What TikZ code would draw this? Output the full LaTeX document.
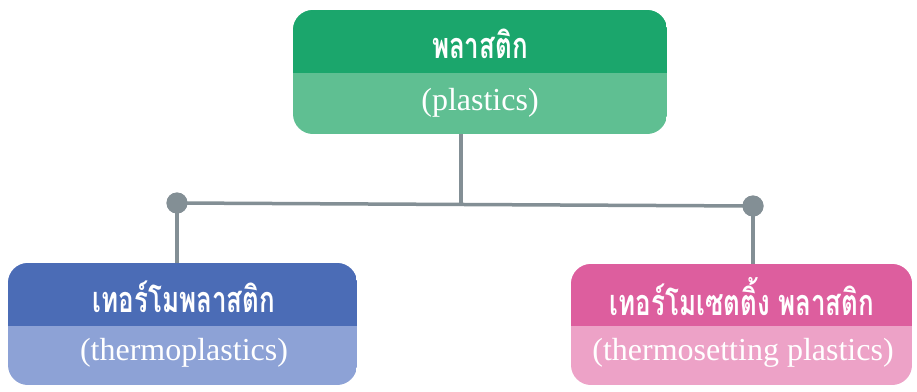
\documentclass[tikz,border=0pt]{standalone}
\usepackage{fontspec}
\setmainfont{Liberation Serif}
\newfontfamily\thaifont[Script=Thai, FakeStretch=0.72]{Loma}
\definecolor{gdark}{HTML}{1BA66C}
\definecolor{glight}{HTML}{5FBF92}
\definecolor{bdark}{HTML}{4B6CB6}
\definecolor{blight}{HTML}{8DA2D6}
\definecolor{pdark}{HTML}{DD5E9E}
\definecolor{plight}{HTML}{EDA2C7}
\definecolor{linegray}{HTML}{838F95}
\tikzset{
  boxarea/.style={rectangle, inner sep=0pt, outer sep=0pt},
  thtext/.style={text=white, font=\thaifont\bfseries\fontsize{36}{40}\selectfont, inner sep=0pt},
  entext/.style={text=white, font=\fontsize{32}{36}\selectfont, inner sep=0pt},
  link/.style={draw=linegray, line width=3.5pt},
  dot/.style={circle, fill=linegray, minimum size=21pt, inner sep=0pt},
}
\newcommand{\splitbox}[8]{%
  \begin{scope}
    \clip[rounded corners=20pt] (#2,#3) rectangle (#4,#5);
    \fill[#8] (#2,#3) rectangle (#4,#5);
    \fill[#7] (#2,#3) rectangle (#4,#6);
  \end{scope}
  \node[boxarea, minimum width={(#4-#2)*1pt}, minimum height={(#5-#3)*1pt}] (#1) at ({(#2+#4)/2},{(#3+#5)/2}) {};
}
\begin{document}
\begin{tikzpicture}[x=1pt,y=-1pt]
\useasboundingbox (0,0) rectangle (917,391);
\fill[white] (0,0) rectangle (917,391);
\coordinate (mid) at (461,205);
\node[dot] (dl) at (177,203) {};
\node[dot] (dr) at (753,206) {};
\splitbox{top}{293}{10}{667}{134}{73}{gdark}{glight}
\splitbox{left}{8}{263}{357}{385}{326}{bdark}{blight}
\splitbox{right}{571}{264}{912}{385}{326}{pdark}{plight}
\draw[link] (mid |- top.south) -- (mid);
\draw[link] (dl.center) -- (dr.center);
\draw[link] (dl.center) -- (dl |- left.north);
\draw[link] (dr.center) -- (dr |- right.north);
\node[dot] at (dl) {};
\node[dot] at (dr) {};
\node[thtext] (t1) at (480,44) {พลาสติก};
\node[entext] (e1) at (480,103) {(plastics)};
\node[thtext] (t2) at (184,297) {เทอร์โมพลาสติก};
\node[entext] (e2) at (184,353) {(thermoplastics)};
\node[thtext] (t3) at (742,297) {เทอร์โมเซตติ้ง พลาสติก};
\node[entext] (e3) at (743,353) {(thermosetting plastics)};
\end{tikzpicture}
\end{document}
